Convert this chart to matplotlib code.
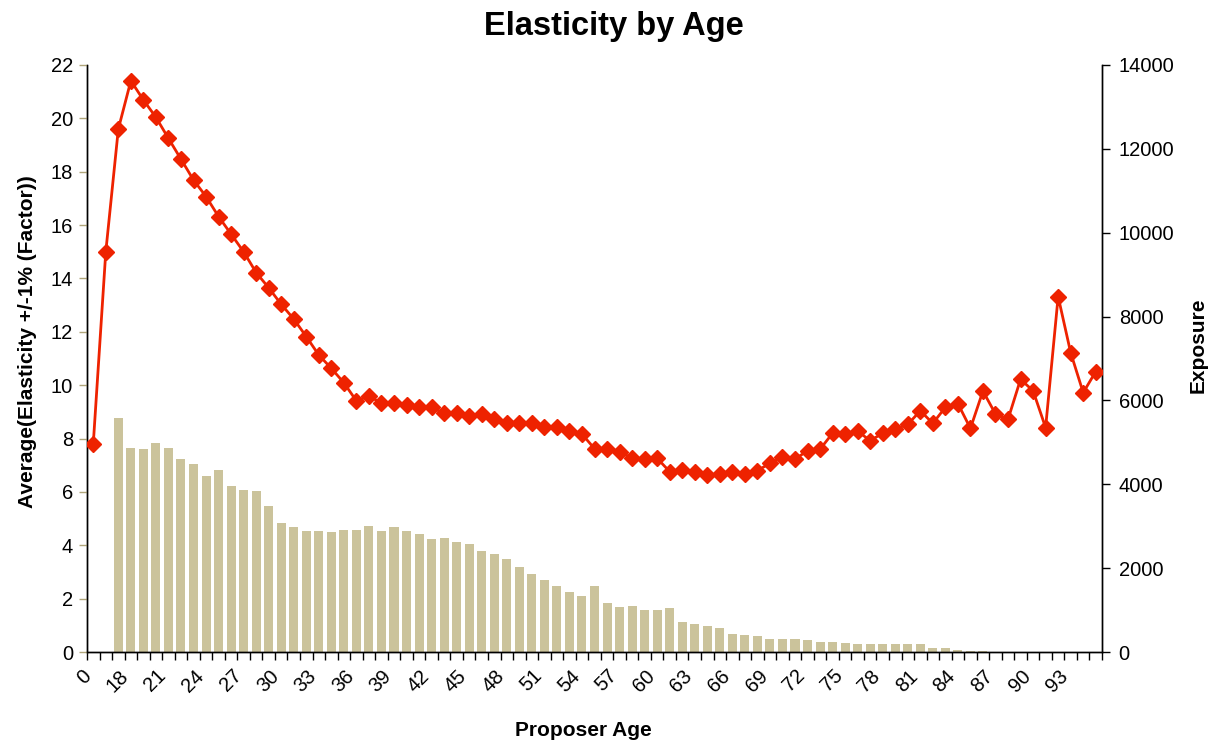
import matplotlib
matplotlib.use("Agg")
import matplotlib.pyplot as plt
import matplotlib.transforms as mtransforms
import numpy as np

plt.rcParams['font.family'] = ['Liberation Sans', 'DejaVu Sans']

ages = ['0'] + [str(a) for a in range(16, 96)]

elasticity = [7.80, 15.0, 19.6, 21.41, 20.69, 20.04, 19.25, 18.47, 17.69, 17.07,
              16.32, 15.66, 15.00, 14.22, 13.65, 13.03, 12.48, 11.82, 11.13, 10.63,
              10.09, 9.41, 9.60, 9.32, 9.32, 9.26, 9.18, 9.17, 8.95, 8.95,
              8.86, 8.92, 8.73, 8.57, 8.57, 8.57, 8.42, 8.42, 8.28, 8.17,
              7.62, 7.60, 7.51, 7.26, 7.22, 7.26, 6.76, 6.82, 6.73, 6.63,
              6.67, 6.73, 6.66, 6.80, 7.07, 7.30, 7.22, 7.55, 7.60, 8.20,
              8.16, 8.28, 7.92, 8.20, 8.36, 8.53, 9.04, 8.57, 9.17, 9.31,
              8.38, 9.78, 8.92, 8.72, 10.22, 9.79, 8.41, 13.32, 11.22, 9.72,
              10.51]

exposure = [0, 0, 5590, 4870, 4830, 4990, 4870, 4610, 4490, 4200,
            4350, 3970, 3870, 3850, 3490, 3080, 2990, 2890, 2890, 2870,
            2920, 2920, 3000, 2890, 2980, 2890, 2810, 2690, 2720, 2620,
            2580, 2410, 2340, 2220, 2030, 1860, 1720, 1570, 1430, 1340,
            1570, 1170, 1070, 1100, 1000, 1000, 1050, 720, 670, 620,
            570, 430, 410, 380, 310, 310, 310, 290, 240, 240,
            210, 190, 190, 190, 190, 190, 190, 100, 100, 50,
            25, 20, 0, 0, 0, 0, 0, 0, 0, 0,
            0]

left_ticks = list(range(0, 23, 2))
right_ticks = list(range(0, 14001, 2000))

W, H = 1211, 744
fig = plt.figure(figsize=(W / 100, H / 100), dpi=100)
ax1 = fig.add_axes([87 / W, 1 - 652 / H, (1102 - 87) / W, (652 - 65) / H])
ax2 = ax1.twinx()
ax1.set_zorder(2)
ax1.patch.set_visible(False)

x = np.arange(len(ages))
bar_color = '#CBC39B'
line_color = '#EE2200'

ax2.bar(x, exposure, width=0.72, color=bar_color, linewidth=0)
ax1.plot(x, elasticity, color=line_color, lw=2.0, marker='D', ms=8,
         markeredgecolor=line_color, markerfacecolor=line_color, zorder=3)

ax1.set_xlim(-0.5, len(ages) - 0.5)
ax1.set_ylim(0, 22)
ax2.set_ylim(0, 14000)
ax1.set_yticks(left_ticks)
ax2.set_yticks(right_ticks)

# category ticks at boundaries, labels at every third category
ax1.set_xticks(np.arange(-0.5, len(ages), 1.0), minor=False)
ax1.set_xticklabels([])
ax1.set_xticks(x[::3], minor=True)
ax1.set_xticklabels(ages[::3], minor=True, rotation=45, ha='right',
                    rotation_mode='anchor', fontsize=14.5)
ax1.tick_params(axis='x', which='major', length=6, width=1, color='black', direction='out')
ax1.tick_params(axis='x', which='minor', length=0, pad=8)
offset = mtransforms.ScaledTranslation(-12 / 100, -3 / 100, fig.dpi_scale_trans)
for lab in ax1.xaxis.get_minorticklabels():
    lab.set_transform(lab.get_transform() + offset)

ax1.tick_params(axis='y', length=6, width=1, color='#B0A57A', labelsize=14.5, pad=4)
ax2.tick_params(axis='y', length=6, width=1, color='black', labelsize=14.5, pad=6)

for a in (ax1, ax2):
    a.spines['top'].set_visible(False)
    for s in ('left', 'right', 'bottom'):
        a.spines[s].set_color('black')
        a.spines[s].set_linewidth(1.0)

fig.text(614 / W, 1 - 27 / H, 'Elasticity by Age', ha='center', va='center',
         fontsize=23.5, fontweight='bold')
fig.text(583 / W, 1 - 731 / H, 'Proposer Age', ha='center', va='center',
         fontsize=15, fontweight='bold')
fig.text(28 / W, 1 - 342 / H, 'Average(Elasticity +/-1% (Factor))', ha='center',
         va='center', rotation=90, fontsize=15, fontweight='bold')
fig.text(1198 / W, 1 - 345 / H, 'Exposure', ha='center', va='center',
         rotation=90, fontsize=15, fontweight='bold')

fig.savefig('out.png', dpi=100)
